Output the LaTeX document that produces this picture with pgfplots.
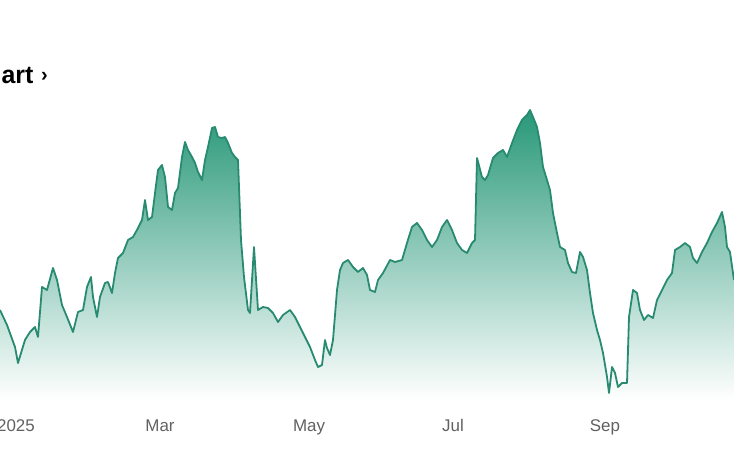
\documentclass[border=0pt]{standalone}
\usepackage{pgfplots}
\pgfplotsset{compat=1.18}
\usepackage{fontspec}
\setmainfont{Liberation Sans}

\definecolor{lineteal}{RGB}{40,138,112}
\definecolor{fillteal}{RGB}{40,152,120}

% price path, x in px from the left, y in px above the baseline
\pgfplotstableread{
x y
0 90
7 75
15 53
18 37
25 60
30 68
35 73
38 63
42 113
47 110
53 132
57 120
62 95
67 83
73 68
78 88
83 90
87 113
91 123
93 103
97 83
100 103
105 117
108 118
112 107
115 127
118 142
123 147
128 160
133 163
137 170
142 180
145 200
148 180
152 183
155 207
158 230
162 235
165 223
168 193
172 190
175 207
178 212
182 243
185 258
188 250
192 243
195 237
198 228
202 220
205 240
208 253
212 272
215 273
218 263
222 262
225 263
228 257
232 247
235 243
238 240
241 160
244 123
248 90
250 87
254 153
258 90
263 93
268 92
273 87
278 78
283 85
290 90
295 83
300 73
305 63
310 53
315 40
318 33
322 35
325 60
327 52
330 45
333 60
337 110
340 130
343 137
348 140
353 133
358 128
363 132
367 125
370 110
375 108
378 120
383 127
390 140
395 138
402 140
407 157
412 173
417 177
422 170
427 160
432 153
437 160
442 173
447 180
452 170
457 157
462 150
467 147
472 157
475 160
477 242
482 223
485 220
488 225
493 242
498 247
503 250
507 243
512 257
517 270
522 280
527 285
530 290
533 283
537 273
540 257
543 233
547 220
550 210
553 187
557 167
560 153
565 150
568 137
572 128
576 127
580 148
583 143
587 130
590 107
593 87
597 70
600 60
603 47
607 23
609 7
612 33
615 27
618 13
622 17
627 17
629 83
633 110
637 107
640 90
644 80
648 85
653 82
657 100
662 110
667 120
672 127
675 150
680 153
685 157
690 153
693 142
697 137
702 148
707 157
712 168
717 177
722 188
725 173
727 153
730 148
734 120
}\pricedata

\begin{document}
\begin{tikzpicture}
\begin{axis}[
  scale only axis,
  width=734bp, height=458bp,
  xmin=0, xmax=734,
  ymin=-58, ymax=400,
  axis line style={draw=none},
  major tick length=0pt,
  ytick=\empty,
  xtick={16,160,309,453,605},
  xticklabels={2025,Mar,May,Jul,Sep},
  xticklabel style={font=\fontsize{17}{17}\selectfont, text=black!62, anchor=base, yshift=27bp},
  clip=false,
]
\addplot[draw=none, top color=fillteal, middle color=fillteal!48, bottom color=white]
  table[x=x, y=y] {\pricedata} \closedcycle;
\addplot[lineteal, line width=1.8bp, line join=round]
  table[x=x, y=y] {\pricedata};
\node[anchor=base east, font=\fontsize{25}{25}\bfseries] at (axis cs:37,316) {Chart};
\node[anchor=base west, font=\fontsize{20}{20}\bfseries, inner sep=0pt] at (axis cs:41,318) {›};
\node[anchor=base, font=\fontsize{17}{17}\selectfont, text=black!62] at (axis cs:750,-32) {Nov};
\end{axis}
\pgfresetboundingbox
\path[use as bounding box] (0,0) rectangle (734bp,458bp);
\end{tikzpicture}
\end{document}
